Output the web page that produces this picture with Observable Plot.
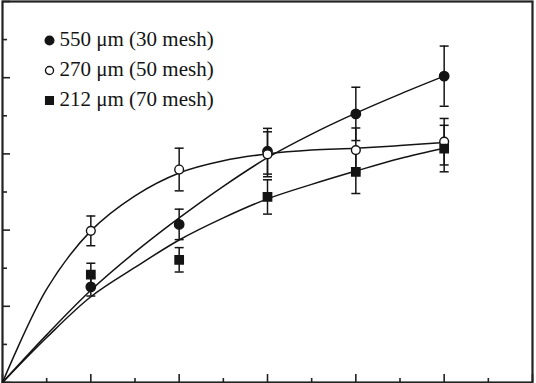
<!DOCTYPE html>
<html><head><meta charset="utf-8">
<script src="https://cdn.jsdelivr.net/npm/d3@7"></script>
<script src="https://cdn.jsdelivr.net/npm/@observablehq/plot@0.6"></script>
<style>html,body{margin:0;padding:0;background:#fff;} #chart svg{display:block}</style>
</head><body><div id="chart"></div>
<script>
// Measured points (x = 1..5)
const times = [1, 2, 3, 4, 5];
const labels = ["550 μm (30 mesh)", "270 μm (50 mesh)", "212 μm (70 mesh)"];
const mean550 = [2.51, 4.15, 6.07, 7.05, 8.04];
const err550  = [0.24, 0.40, 0.60, 0.70, 0.79];
const mean270 = [3.98, 5.59, 5.99, 6.10, 6.32];
const err270  = [0.39, 0.56, 0.59, 0.58, 0.61];
const mean212 = [2.83, 3.22, 4.87, 5.53, 6.14];
const err212  = [0.30, 0.32, 0.45, 0.57, 0.61];

// Fitted curves
const curveX   = [0, 0.5, 1, 1.5, 2, 2.5, 3, 3.5, 4, 4.5, 5];
const curve550 = [0, 1.25, 2.42, 3.42, 4.32, 5.15, 5.90, 6.52, 7.07, 7.57, 8.04];
const curve270 = [0, 2.45, 3.98, 4.90, 5.50, 5.82, 6.00, 6.10, 6.15, 6.22, 6.30];
const curve212 = [0, 1.18, 2.25, 3.02, 3.74, 4.32, 4.82, 5.20, 5.55, 5.88, 6.15];

// Axis ticks
const xMajorTicks = [0, 1, 2, 3, 4, 5, 6];
const xMinorTicks = [0.5, 1.5, 2.5, 3.5, 4.5, 5.5];
const yMajorTicks = [0, 2, 4, 6, 8, 10];
const yMinorTicks = [1, 3, 5, 7, 9];

const ink = "#141414";
const series = [
  {label: labels[0], mean: mean550, err: err550, curve: curve550, symbol: "circle", fill: ink, r: 4.7},
  {label: labels[1], mean: mean270, err: err270, curve: curve270, symbol: "circle", fill: "white", r: 4.4},
  {label: labels[2], mean: mean212, err: err212, curve: curve212, symbol: "square", fill: ink, r: 4.7}
];

const cap = {draw(ctx) { ctx.moveTo(-4.5, 0); ctx.lineTo(4.5, 0); }};

const marks = [];
marks.push(Plot.frame({stroke: "#222", strokeWidth: 2.2}));
marks.push(Plot.axisY(yMajorTicks, {tickSize: -8, tickFormat: () => "", label: null, stroke: "#222", strokeWidth: 1.6}));
marks.push(Plot.axisY(yMinorTicks, {tickSize: -5, tickFormat: () => "", label: null, stroke: "#222", strokeWidth: 1.6}));
marks.push(Plot.axisX(xMajorTicks, {tickSize: -8, tickFormat: () => "", label: null, stroke: "#222", strokeWidth: 1.6}));
marks.push(Plot.axisX(xMinorTicks, {tickSize: -4, tickFormat: () => "", label: null, stroke: "#222", strokeWidth: 1.6}));

series.forEach((s) => {
  const line = curveX.map((x, i) => ({x, y: s.curve[i]}));
  marks.push(Plot.line(line, {x: "x", y: "y", curve: "catmull-rom", stroke: ink, strokeWidth: 1.5}));
});
series.forEach((s) => {
  const pts = times.map((t, i) => ({t, v: s.mean[i], e: s.err[i]}));
  marks.push(Plot.ruleX(pts, {x: "t", y1: d => d.v - d.e, y2: d => d.v + d.e, stroke: ink, strokeWidth: 1.5}));
  marks.push(Plot.dot(pts, {x: "t", y: d => d.v + d.e, symbol: cap, r: 4, stroke: ink, strokeWidth: 1.5, fill: "none"}));
  marks.push(Plot.dot(pts, {x: "t", y: d => d.v - d.e, symbol: cap, r: 4, stroke: ink, strokeWidth: 1.5, fill: "none"}));
});
series.forEach((s) => {
  const pts = times.map((t, i) => ({t, v: s.mean[i]}));
  marks.push(Plot.dot(pts, {x: "t", y: "v", symbol: s.symbol, r: s.r, fill: s.fill, stroke: ink, strokeWidth: 1.4}));
});
// Legend inside the frame
series.forEach((s, i) => {
  marks.push(Plot.dot([s.label], {frameAnchor: "top-left", dx: 47, dy: 39 + i * 30, symbol: s.symbol, r: s.r * 0.92, fill: s.fill, stroke: ink, strokeWidth: 1.4}));
  marks.push(Plot.text([s.label], {frameAnchor: "top-left", text: d => d, dx: 57, dy: 38 + i * 30, textAnchor: "start", lineAnchor: "middle", fontSize: 21, fontFamily: "Liberation Serif", fill: ink}));
});

const chart = Plot.plot({
  width: 536,
  height: 383,
  marginLeft: 2,
  marginRight: 4,
  marginTop: 1,
  marginBottom: 1,
  x: {domain: [0, 6], axis: null},
  y: {domain: [0, 10], axis: null},
  style: {background: "white", overflow: "visible"},
  marks
});
document.getElementById("chart").appendChild(chart);
</script>
</body></html>
